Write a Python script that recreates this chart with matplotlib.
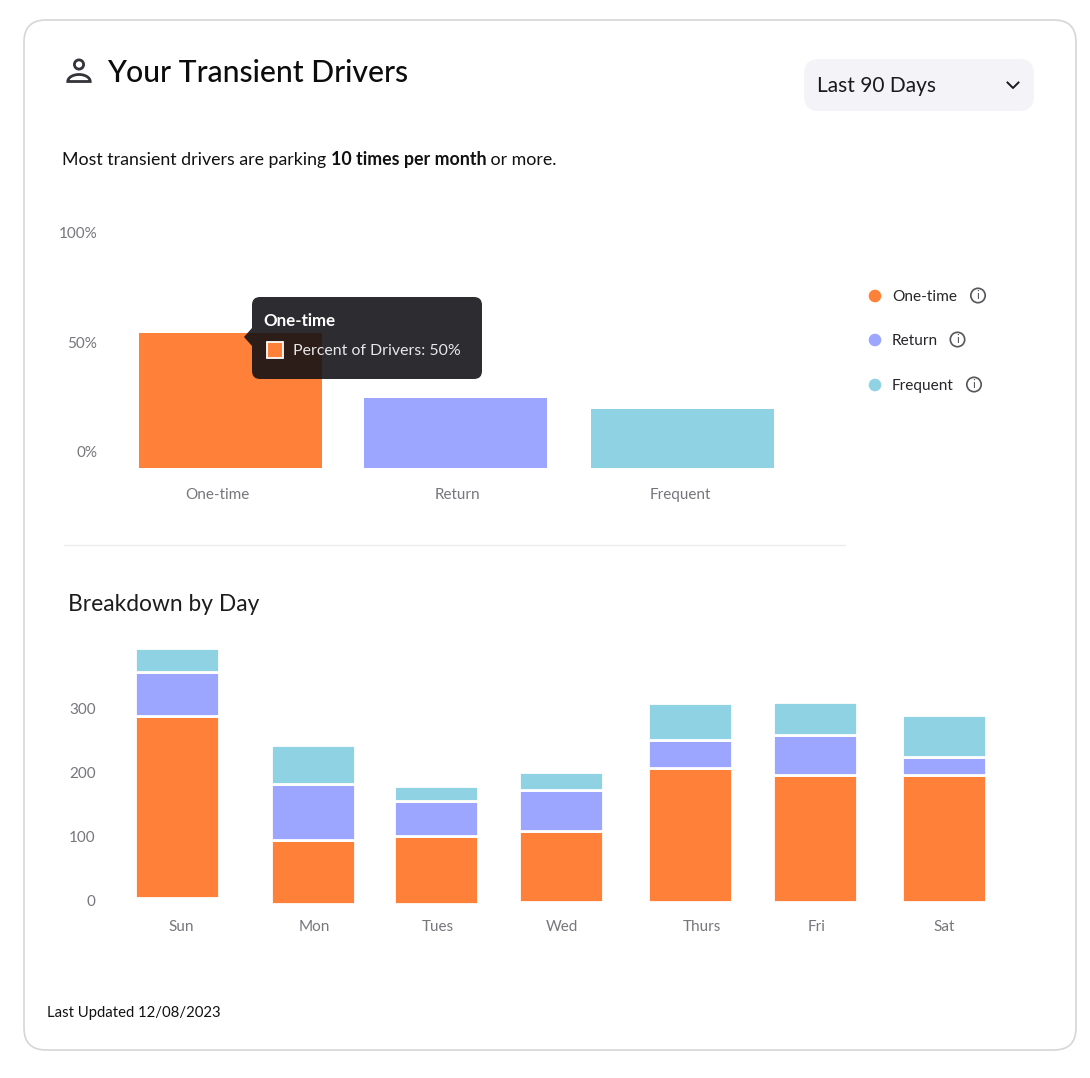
import numpy as np
import matplotlib
matplotlib.use("Agg")
import matplotlib.pyplot as plt
from matplotlib.patches import FancyBboxPatch, Circle, Rectangle, Polygon

plt.rcParams["font.family"] = ["Lato", "DejaVu Sans"]

ORANGE = "#ff8038"
PURPLE = "#9ca6ff"
CYAN = "#8ed2e4"
GREY = "#77767c"

# top chart
driver_types = ["One-time", "Return", "Frequent"]
driver_percent = [50, 26, 22]
driver_colors = [ORANGE, PURPLE, CYAN]
percent_ticks = ["0%", "50%", "100%"]

# bottom chart
days = ["Sun", "Mon", "Tues", "Wed", "Thurs", "Fri", "Sat"]
one_time = [284, 101, 106, 112, 210, 199, 199]
returning = [68, 87, 55, 64, 44, 62, 28]
frequent = [39, 60, 23, 28, 58, 52, 66]
day_ticks = [0, 100, 200, 300]

W, H = 1090, 1078
fig = plt.figure(figsize=(W / 100, H / 100), dpi=100, facecolor="white")


def px_axes(x0, y0, x1, y1, **kw):
    return fig.add_axes([x0 / W, 1 - y1 / H, (x1 - x0) / W, (y1 - y0) / H], **kw)


def clean(ax):
    for s in ax.spines.values():
        s.set_visible(False)
    ax.tick_params(length=0, labelcolor=GREY, labelsize=11)
    ax.patch.set_alpha(0)


# driver bars, 2.7 px per percent, baseline sits under the 0% label
ax1 = px_axes(100, 220, 800, 478)
clean(ax1)
ax1.set_xlim(100, 800)
ax1.set_ylim(-10 / 2.7, 248 / 2.7)
ax1.bar([230.5, 455.5, 682.5], driver_percent, width=183, color=driver_colors)
ax1.set_xticks([217, 457, 680], driver_types)
ax1.set_yticks([17 / 2.7, 126 / 2.7, 235 / 2.7], percent_ticks)
ax1.tick_params(axis="x", pad=7)
ax1.tick_params(axis="y", pad=2)

# day bars, 0.64 px per unit
ax2 = px_axes(100, 640, 1000, 910)
clean(ax2)
ax2.set_xlim(100, 1000)
ax2.set_ylim(-10 / 0.64, 260 / 0.64)
bar_x = [176.8, 313.3, 436.3, 560.8, 690.3, 814.8, 943.8]
bar_base = [3.5, -6.5, -6.5, -3.5, -3.5, -3.5, -3.5]
mid = [b + o for b, o in zip(bar_base, one_time)]
top = [m + r for m, r in zip(mid, returning)]
bar_style = dict(width=84, edgecolor="white", linewidth=2)
ax2.bar(bar_x, one_time, bottom=bar_base, color=ORANGE, **bar_style)
ax2.bar(bar_x, returning, bottom=mid, color=PURPLE, **bar_style)
ax2.bar(bar_x, frequent, bottom=top, color=CYAN, **bar_style)
ax2.set_xticks([181, 314, 438, 562, 702, 817, 944], days)
ax2.set_yticks(day_ticks)
ax2.tick_params(axis="x", pad=7.5)
ax2.tick_params(axis="y", pad=3)

# everything else is laid out in pixels on top
ov = px_axes(0, 0, W, H)
ov.set_xlim(0, W)
ov.set_ylim(H, 0)
ov.axis("off")
ov.patch.set_alpha(0)

ov.add_patch(FancyBboxPatch((24, 20), 1052, 1030, boxstyle="round,pad=0,rounding_size=22",
                            fc="none", ec="#d6d6d6", lw=1.2, zorder=0))

# person icon
ov.add_patch(Circle((79, 64.5), 4.6, fc="none", ec="#33343a", lw=2))
t = np.linspace(np.pi, 2 * np.pi, 30)
ov.add_patch(Polygon(np.column_stack([79 + 11.2 * np.cos(t), 81.5 + 7 * np.sin(t)]),
                     closed=True, fc="none", ec="#33343a", lw=2))

ov.text(107.5, 72.5, "Your Transient Drivers", fontsize=21.7, fontweight="medium", color="#0c0c0c", va="center")

ov.add_patch(FancyBboxPatch((804, 59), 230, 52, boxstyle="round,pad=0,rounding_size=15",
                            fc="#f3f3f8", ec="none"))
ov.text(817, 86, "Last 90 Days", fontsize=15, color="#1a1a1a", va="center")
ov.plot([1007.5, 1013, 1018.5], [82.5, 88, 82.5], color="#1a1a1a", lw=1.4)

# subtitle in three runs
x = 62
renderer = fig.canvas.get_renderer()
for txt, weight in [("Most transient drivers are parking ", "normal"),
                    ("10 times per month", "bold"),
                    (" or more.", "normal")]:
    t = ov.text(x, 160, txt.replace(" ", "\u00a0"), fontsize=12.78, fontweight=weight, color="#111111", va="center")
    x += t.get_window_extent(renderer).width

# tooltip
ov.add_patch(Polygon([[244, 337], [252, 328], [252, 346]], fc="#101014", alpha=0.88, ec="none"))
ov.add_patch(FancyBboxPatch((252, 297), 230, 82, boxstyle="round,pad=0,rounding_size=8",
                            fc="#101014", alpha=0.88, ec="none"))
ov.text(263, 321, "One-time", fontsize=12.2, fontweight="bold", color="white", va="center")
ov.add_patch(Rectangle((267, 342), 16, 16, fc=ORANGE, ec="white", lw=1.3))
ov.text(293, 351, "Percent of Drivers: 50%", fontsize=11.4, color="#e8e8e8", va="center")

# legend
for lab, col, ly, ix in zip(driver_types, driver_colors, [296, 340, 385], [978, 957.5, 974]):
    ov.add_patch(Circle((875, ly), 6.3, fc=col, ec="none"))
    ov.text(892, ly + 1, lab, fontsize=11.1, color="#26262a", va="center")
    ov.add_patch(Circle((ix, ly - 0.5), 7.2, fc="none", ec="#55555a", lw=1.2))
    ov.text(ix, ly - 0.5, "i", fontsize=8.5, color="#55555a", ha="center", va="center")

ov.plot([64, 845], [545, 545], color="#ececec", lw=1)
ov.text(68, 604.5, "Breakdown by Day", fontsize=16.4, color="#1d1d1d", va="center")
ov.text(47, 1013.5, "Last Updated 12/08/2023", fontsize=10.75, color="#111111", va="center")

fig.savefig("out.png", dpi=100, facecolor="white")
